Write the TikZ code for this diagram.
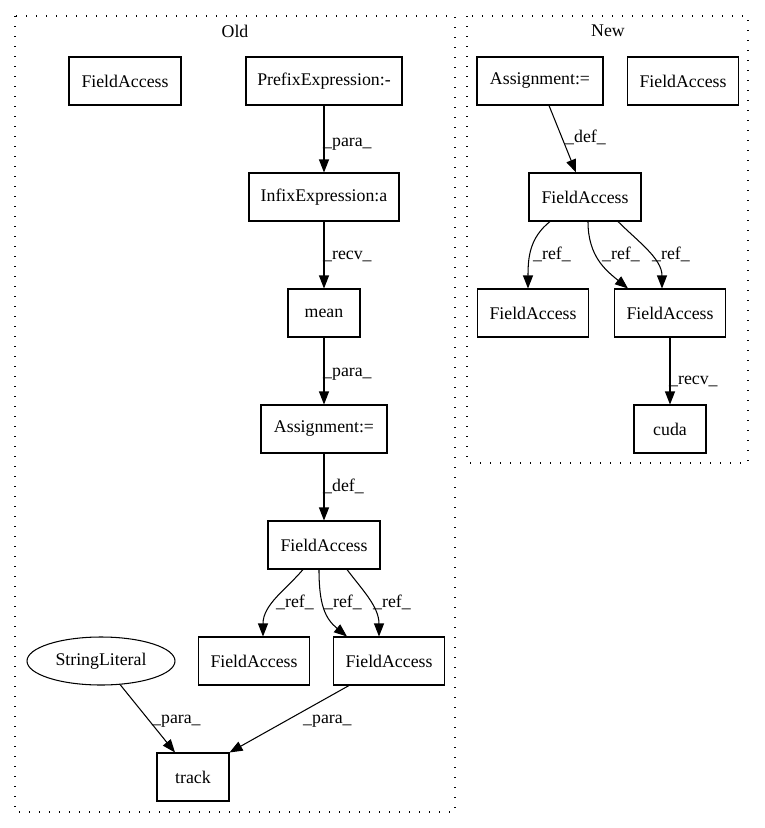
\documentclass[tikz,border=0pt]{standalone}
\usepackage{fontspec}
\setmainfont{Liberation Serif}
\usetikzlibrary{arrows.meta,shapes.geometric}
\begin{document}
\begin{tikzpicture}[x=1pt,y=-1pt,
  every node/.style={font=\fontsize{17.8}{21}\selectfont},
  box/.style={draw, line width=1.05pt, rectangle, minimum height=48pt, inner sep=0pt},
  ell/.style={draw, line width=1.05pt, ellipse, minimum width=148pt, minimum height=48pt, inner sep=0pt},
  edge/.style={line width=1.05pt, -{Triangle[length=13pt,width=10pt]}},
  lbl/.style={anchor=west, inner sep=0pt, text height=12pt, text depth=4pt},
  clus/.style={line width=1.2pt, dash pattern=on 1.2pt off 8.8pt}]
\fill[white] (0,0) rectangle (765,828);
\useasboundingbox (0,0) rectangle (765,828);
% clusters
\draw[clus] (15,16) rectangle (455,812);
\draw[clus] (467,16) rectangle (748,463);
\node (oldlbl) at (235,31) {Old};
\node (newlbl) at (608,31) {New};
% Old nodes
\node[box, minimum width=112pt] (ofa0) at (125,81) {FieldAccess};
\node[box, minimum width=156pt] (opre) at (324,81) {PrefixExpression:-};
\node[box, minimum width=150pt] (oinf) at (324,197) {InfixExpression:a};
\node[box, minimum width=72pt] (omean) at (324,313) {mean};
\node[box, minimum width=126pt] (oasg) at (324,429) {Assignment:=};
\node[box, minimum width=112pt] (ofa) at (324,545) {FieldAccess};
\node[box, minimum width=111pt] (ofa1) at (254,661) {FieldAccess};
\node[box, minimum width=111pt] (ofa2) at (389,661) {FieldAccess};
\node[ell] (osl) at (101,661) {StringLiteral};
\node[box, minimum width=72pt] (otrack) at (193,777) {track};
% New nodes
\node[box, minimum width=126pt] (nasg) at (540,81) {Assignment:=};
\node[box, minimum width=111pt] (nfa0) at (683,81) {FieldAccess};
\node[box, minimum width=112pt] (nfa) at (585,197) {FieldAccess};
\node[box, minimum width=111pt] (nfa1) at (533,313) {FieldAccess};
\node[box, minimum width=111pt] (nfa2) at (670,313) {FieldAccess};
\node[box, minimum width=72pt] (ncuda) at (670,429) {cuda};
% Old edges
\draw[edge] (opre) -- (oinf);
\draw[edge] (oinf) -- (omean);
\draw[edge] (omean) -- (oasg);
\draw[edge] (oasg) -- (ofa);
\draw[edge] ([xshift=-21pt]ofa.south) .. controls +(-17,20) and +(0,-32) .. ([xshift=9pt]ofa1.north);
\draw[edge] ([xshift=-5pt]ofa.south) .. controls +(0,35) and +(-22,-18) .. ([xshift=-42pt]ofa2.north);
\draw[edge] ([xshift=23pt]ofa.south) .. controls +(15,20) and +(0,-30) .. ([xshift=-10pt]ofa2.north);
\draw[edge] (osl.-51) -- ([xshift=-18pt]otrack.north);
\draw[edge] ([xshift=-40pt]ofa2.south) -- (otrack.north east);
% Old labels
\node[lbl] (l1) at (323,142) {\_para\_};
\node[lbl] (l2) at (323,255) {\_recv\_};
\node[lbl] (l3) at (323,372) {\_para\_};
\node[lbl] (l4) at (323,487) {\_def\_};
\node[lbl] (l5) at (276,603) {\_ref\_};
\node[lbl] (l6) at (324,603) {\_ref\_};
\node[lbl] (l7) at (373,603) {\_ref\_};
\node[lbl] (l8) at (152,719) {\_para\_};
\node[lbl] (l9) at (303,719) {\_para\_};
% New edges
\draw[edge] ([xshift=9pt]nasg.south) -- ([xshift=-9pt]nfa.north);
\draw[edge] ([xshift=-35pt]nfa.south) .. controls +(-20,16) and +(0,-32) .. ([xshift=-5pt]nfa1.north);
\draw[edge] ([xshift=3pt]nfa.south) .. controls +(0,35) and +(-22,-18) .. ([xshift=-42pt]nfa2.north);
\draw[edge] ([xshift=33pt]nfa.south) .. controls +(20,20) and +(0,-30) .. ([xshift=-8pt]nfa2.north);
\draw[edge] (nfa2) -- (ncuda);
% New labels
\node[lbl] (m1) at (565,138) {\_def\_};
\node[lbl] (m2) at (533,255) {\_ref\_};
\node[lbl] (m3) at (602,255) {\_ref\_};
\node[lbl] (m4) at (652,255) {\_ref\_};
\node[lbl] (m5) at (669,380) {\_recv\_};
\end{tikzpicture}
\end{document}
